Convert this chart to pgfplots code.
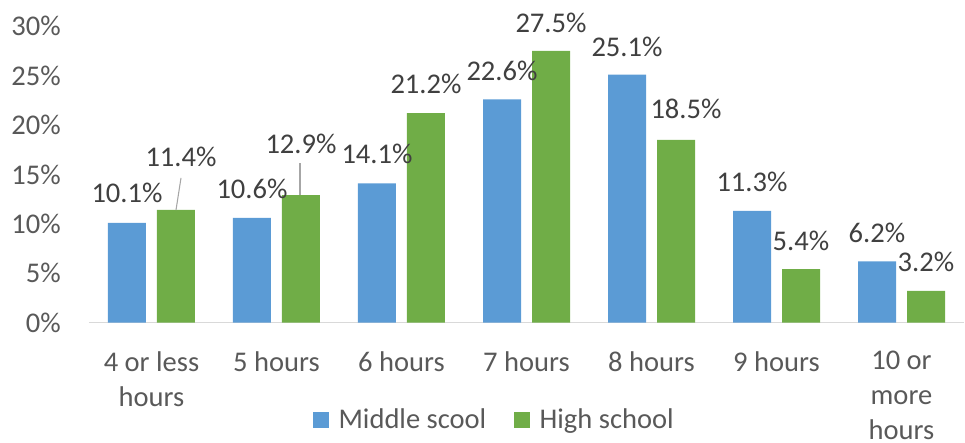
\documentclass[border=0pt]{standalone}
\usepackage{fontspec}
\setmainfont{Carlito}
\usepackage{pgfplots}
\usepackage{pgfplotstable}
\pgfplotsset{compat=1.18}

\definecolor{msblue}{HTML}{5B9BD5}
\definecolor{hsgreen}{HTML}{70AD47}
\definecolor{ticktext}{HTML}{595959}
\definecolor{labeltext}{HTML}{404040}
\definecolor{baseline}{HTML}{D9D9D9}
\definecolor{leader}{HTML}{A6A6A6}

% x = category index, y = percent, dx/dy = label offset in pt
\pgfplotstableread{
x y dx dy
0 10.1 0 22.5
1 10.6 0 22.0
2 14.1 0 21.8
3 22.6 0 21.0
4 25.1 0 21.0
5 11.3 0 21.8
6 6.2 0 21.0
}\middle
\pgfplotstableread{
x y dx dy
0 11.4 3.75 39.75
1 12.9 0 38.25
2 21.2 0 21.8
3 27.5 0 21.4
4 18.5 7.5 23.25
5 5.4 0 21.0
6 3.2 0 21.4
}\high

\newcommand{\chartfont}{\fontsize{21.4}{26.25}\selectfont}

\pgfplotsset{
  labelled bars/.style={
    ybar, bar shift=0pt,
    nodes near coords={\pgfmathprintnumber[fixed,precision=1,fixed zerofill]{\pgfplotspointmeta}\%},
    visualization depends on={\thisrow{dx} \as \dx},
    visualization depends on={\thisrow{dy} \as \dy},
    nodes near coords style={font=\chartfont, text=labeltext, anchor=center, inner sep=0pt, xshift=\dx pt, yshift=\dy pt},
  },
}

\begin{document}
\begin{tikzpicture}
\useasboundingbox (-66.75pt,-90.375pt) rectangle (657pt,241.875pt);
\begin{axis}[
  scale only axis,
  width=656.25pt, height=222.15pt,
  bar width=0.304,
  xmin=-0.5, xmax=6.5,
  ymin=0, ymax=30,
  clip=false,
  axis x line*=bottom,
  axis y line*=left,
  y axis line style={draw=none},
  x axis line style={draw=baseline, line width=1.1pt},
  major tick length=0pt,
  xtick={0,...,6},
  xticklabels={{4 or less\\hours},{5 hours},{6 hours},{7 hours},{8 hours},{9 hours},{10 or\\more\\hours}},
  ytick={0,5,...,30},
  yticklabel={\pgfmathprintnumber{\tick}\%},
  /pgf/number format/assume math mode=true,
  yticklabel style={font=\chartfont, text=ticktext, inner sep=0pt, anchor=east, xshift=-21pt},
  xticklabel style={font=\chartfont, text=ticktext, inner sep=0pt, anchor=north, align=center, yshift=-21.5pt},
  legend columns=2,
  legend style={at={(rel axis cs:0.256,-0.3275)}, anchor=west, draw=none, fill=none,
    inner sep=0pt, font=\chartfont, text=ticktext,
    /tikz/every even column/.append style={column sep=19pt}},
  legend image code/.code={\fill[#1] (0pt,-6pt) rectangle (12pt,6pt); \path (17pt,0pt);},
]
\addplot[labelled bars, fill=msblue, draw=none] table[x expr=\thisrow{x}-0.196, y=y] {\middle};
\addlegendentry{Middle scool}
\addplot[labelled bars, fill=hsgreen, draw=none] table[x expr=\thisrow{x}+0.196, y=y] {\high};
\addlegendentry{High school}
% leader lines of the two moved labels
\addplot[draw=leader, line width=0.8pt, no marks, forget plot] coordinates {(0.196,11.39) (0.236,14.64)};
\addplot[draw=leader, line width=0.8pt, no marks, forget plot] coordinates {(1.188,12.91) (1.188,16.18)};
\end{axis}
\end{tikzpicture}
\end{document}
